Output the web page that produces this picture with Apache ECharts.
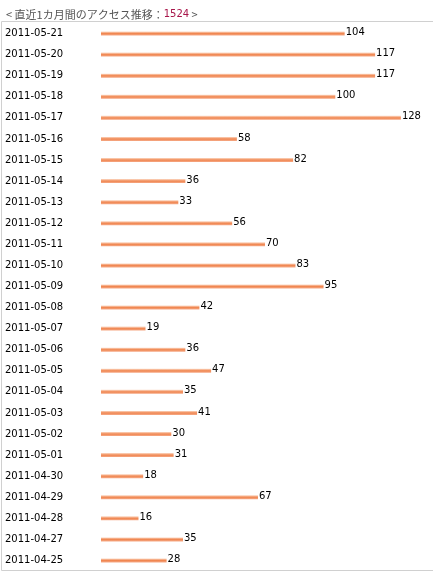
<!DOCTYPE html>
<html>
<head>
<meta charset="utf-8">
<script src="https://cdn.jsdelivr.net/npm/echarts@6/dist/echarts.min.js"></script>
<style>
  html, body { margin: 0; padding: 0; background: #fff; }
  #chart { width: 433px; height: 572px; }
</style>
</head>
<body>
<div id="chart"></div>
<script>
// アクセス数（日別）
var dates = ['2011-05-21', '2011-05-20', '2011-05-19', '2011-05-18', '2011-05-17', '2011-05-16',
  '2011-05-15', '2011-05-14', '2011-05-13', '2011-05-12', '2011-05-11', '2011-05-10', '2011-05-09',
  '2011-05-08', '2011-05-07', '2011-05-06', '2011-05-05', '2011-05-04', '2011-05-03', '2011-05-02',
  '2011-05-01', '2011-04-30', '2011-04-29', '2011-04-28', '2011-04-27', '2011-04-25'];
var counts = [104, 117, 117, 100, 128, 58, 82, 36, 33, 56, 70, 83, 95, 42, 19, 36, 47, 35, 41, 30,
  31, 18, 67, 16, 35, 28];

var total = counts.reduce(function (a, b) { return a + b; }, 0);
var font = '"DejaVu Sans", sans-serif';

var chart = echarts.init(document.getElementById('chart'), null, { renderer: 'canvas' });
chart.setOption({
  animation: false,
  title: {
    left: 1,
    top: 4,
    text: '{g|< 直近1カ月間のアクセス推移：}{n|' + total + '}{g| >}',
    textStyle: {
      fontWeight: 'normal',
      rich: {
        g: { color: '#555', fontSize: 11, fontWeight: 'normal', fontFamily: '"Noto Sans CJK JP", sans-serif' },
        n: { color: '#a8164a', fontSize: 10, fontWeight: 'normal', fontFamily: font }
      }
    }
  },
  graphic: [{
    type: 'rect',
    shape: { x: 1.5, y: 21.5, width: 440, height: 549 },
    style: { fill: 'none', stroke: '#d0d0d0', lineWidth: 1 },
    silent: true
  }],
  grid: { left: 101, right: 4, top: 23, height: 548 },
  xAxis: {
    type: 'value',
    min: 0,
    max: 140,
    show: false
  },
  yAxis: {
    type: 'category',
    data: dates,
    inverse: true,
    axisLine: { show: false },
    axisTick: { show: false },
    splitLine: { show: false },
    axisLabel: {
      align: 'left',
      margin: 96,
      color: '#000',
      fontSize: 10,
      fontFamily: font,
      padding: [0, 0, 6, 0]
    }
  },
  series: [{
    type: 'bar',
    data: counts,
    barWidth: 4,
    itemStyle: {
      color: new echarts.graphic.LinearGradient(0, 0, 0, 1, [
        { offset: 0, color: '#fcd9c4' },
        { offset: 0.5, color: '#f08650' },
        { offset: 1, color: '#f5a986' }
      ])
    },
    label: {
      show: true,
      position: 'right',
      distance: 1,
      color: '#000',
      fontSize: 10,
      fontFamily: font,
      offset: [0, -1]
    }
  }]
});
</script>
</body>
</html>
